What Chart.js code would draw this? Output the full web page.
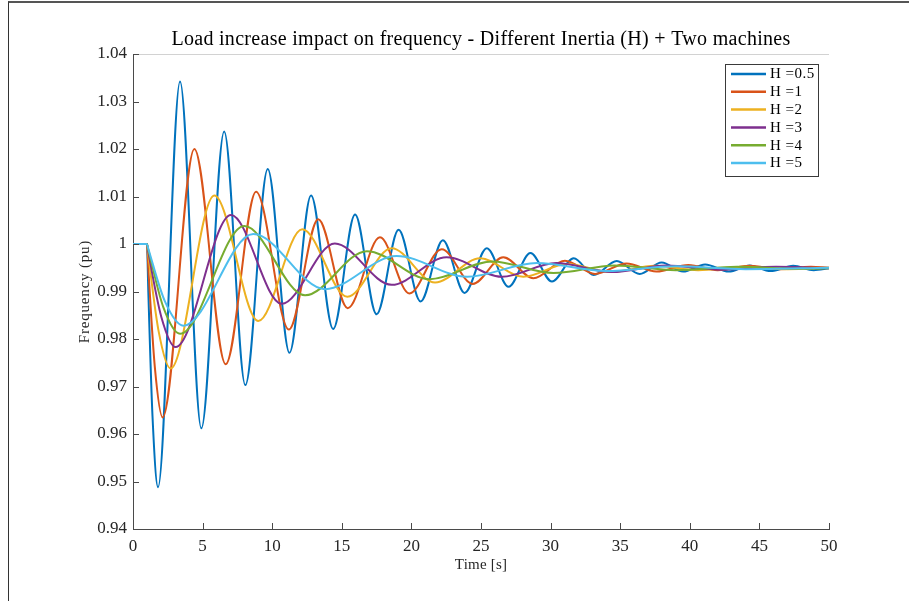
<!DOCTYPE html>
<html><head><meta charset="utf-8">
<script src="https://cdn.jsdelivr.net/npm/chart.js@4.4.0/dist/chart.umd.min.js"></script>
<style>
html,body{margin:0;padding:0;background:#fff;}
#wrap{position:relative;width:909px;height:601px;overflow:hidden;background:#fff;}
#frame{position:absolute;left:8px;top:1px;width:940px;height:640px;border-top:2px solid #555;border-left:1px solid #333;pointer-events:none;}
canvas{position:absolute;left:0;top:0;}
</style></head><body>
<div id="wrap"><canvas id="c" width="909" height="601"></canvas><div id="frame"></div></div>
<script>
// ---- data ----
const titleText = 'Load increase impact on frequency - Different Inertia (H) + Two machines';
const xTitle = 'Time [s]';
const yTitle = 'Frequency (pu)';
const legendLabels = ['H =0.5','H =1','H =2','H =3','H =4','H =5'];
const colors = ['#0072BD','#D95319','#EDB120','#7E2F8E','#77AC30','#4DBEEE'];

const xTickVals = [0,5,10,15,20,25,30,35,40,45,50];
const xTickLabels = ['0','5','10','15','20','25','30','35','40','45','50'];
const yTickVals = [0.94,0.95,0.96,0.97,0.98,0.99,1.00,1.01,1.02,1.03,1.04];
const yTickLabels = ['0.94','0.95','0.96','0.97','0.98','0.99','1','1.01','1.02','1.03','1.04'];

const tH05 = [0,1,1.1,1.40,1.80,3.38,4.91,6.55,8.07,9.68,11.24,12.79,14.38,15.95,17.5,19.08,20.66,22.26,23.82,25.42,26.98,28.55,30.1,31.66,33.1,34.75,36.4,37.98,39.52,41.1,42.8,44.3,45.8,47.43,48.9,50];
const vH05 = [1,1,0.9900,0.9638,0.9488,1.0342,0.9612,1.0237,0.9703,1.0158,0.9771,1.0102,0.9821,1.0062,0.9852,1.0030,0.9879,1.0008,0.9897,0.9991,0.9910,0.9981,0.9921,0.9970,0.9935,0.9964,0.9937,0.9961,0.9942,0.9957,0.9942,0.9955,0.9943,0.9954,0.9945,0.9949];

const tH1 = [0,1,1.1,1.565,2.13,4.41,6.66,8.84,11.2,13.31,15.42,17.74,19.85,22.18,24.4,26.6,28.76,31.03,33.2,35.45,37.6,39.9,42.0,44.3,46.5,48.7,50];
const vH1 = [1,1,0.9949,0.9742,0.9635,1.0200,0.9747,1.0110,0.9820,1.0052,0.9865,1.0014,0.9896,0.9989,0.9916,0.9972,0.9928,0.9965,0.9937,0.9959,0.9942,0.9956,0.9945,0.9954,0.9947,0.9952,0.9950];

const tH2 = [0,1,1.1,1.85,2.7,5.84,9.0,12.16,15.4,18.58,21.7,24.93,28.04,31.2,34.3,37.5,40.6,43.8,47.0,50];
const vH2 = [1,1,0.9976,0.9815,0.9738,1.0102,0.9838,1.0031,0.9889,0.9991,0.9919,0.9970,0.9931,0.9958,0.9941,0.9954,0.9945,0.9952,0.9947,0.9950];

const tH3 = [0,1,1.1,2.03,3.06,7.04,10.68,14.5,18.58,22.53,26.5,30.4,34.4,38.3,42.3,46.2,50];
const vH3 = [1,1,0.9983,0.9847,0.9783,1.0061,0.9874,1.0001,0.9914,0.9972,0.9931,0.9960,0.9941,0.9955,0.9946,0.9952,0.9949];

const tH4 = [0,1,1.1,2.19,3.38,8.0,12.36,16.8,21.3,25.8,30.2,34.6,39.0,43.4,47.8,50];
const vH4 = [1,1,0.9988,0.9866,0.9811,1.0038,0.9892,0.9985,0.9926,0.9963,0.9939,0.9955,0.9945,0.9952,0.9948,0.9949];

const tH5 = [0,1,1.1,2.31,3.62,8.64,13.8,18.94,24.0,29.0,34.0,39.0,44.0,50];
const vH5 = [1,1,0.9990,0.9878,0.9828,1.0021,0.9905,0.9975,0.9931,0.9960,0.9943,0.9953,0.9947,0.9950];

const seriesT = [tH05,tH1,tH2,tH3,tH4,tH5];
const seriesV = [vH05,vH1,vH2,vH3,vH4,vH5];

// ---- chart ----
const FONT = '"Liberation Serif", "Times New Roman", serif';
const n = seriesT.length;
const datasets = seriesT.map((ts,i)=>({
  label: legendLabels[i],
  data: ts.map((t,j)=>({x:t, y:seriesV[i][j]})),
  borderColor: colors[i],
  backgroundColor: colors[i],
  borderWidth: 2,
  pointRadius: 0,
  fill: false,
  cubicInterpolationMode: 'monotone',
  order: n - i
}));

const decor = {
  id:'decor',
  afterDraw(chart){
    const {ctx, chartArea:a, scales:{x,y}} = chart;
    ctx.save();
    // light top line
    ctx.strokeStyle='#d2d2d2'; ctx.lineWidth=1;
    ctx.beginPath(); ctx.moveTo(a.left, Math.round(a.top)+0.5); ctx.lineTo(a.right, Math.round(a.top)+0.5); ctx.stroke();
    // inward ticks
    ctx.strokeStyle='#4a4a4a'; ctx.lineWidth=1;
    ctx.beginPath();
    xTickVals.forEach(v=>{const p=Math.round(x.getPixelForValue(v))+0.5; ctx.moveTo(p,a.bottom); ctx.lineTo(p,a.bottom-6);});
    yTickVals.forEach(v=>{const p=Math.round(y.getPixelForValue(v))+0.5; ctx.moveTo(a.left,p); ctx.lineTo(a.left+6,p);});
    ctx.stroke();
    // title
    ctx.fillStyle='#000'; ctx.textAlign='center'; ctx.textBaseline='middle';
    ctx.font='20px '+FONT;
    ctx.letterSpacing='0.3px';
    ctx.fillText(titleText, (a.left+a.right)/2, 39.5);
    // axis titles
    ctx.fillStyle='#262626';
    ctx.font='15px '+FONT;
    ctx.letterSpacing='0.2px';
    ctx.fillText(xTitle, (a.left+a.right)/2, 565.5);
    ctx.letterSpacing='0.8px';
    ctx.save(); ctx.translate(85,(a.top+a.bottom)/2); ctx.rotate(-Math.PI/2); ctx.fillText(yTitle,0,0); ctx.restore();
    // legend box
    const bx=725.5, by=64.5, bw=93, bh=112;
    ctx.fillStyle='#fff'; ctx.fillRect(bx,by,bw,bh);
    ctx.strokeStyle='#3a3a3a'; ctx.lineWidth=1; ctx.strokeRect(bx,by,bw,bh);
    ctx.textAlign='left'; ctx.font='15px '+FONT; ctx.letterSpacing='0.5px';
    chart.data.datasets.forEach((ds,i)=>{
      const yy = 74 + i*17.8;
      ctx.strokeStyle=ds.borderColor; ctx.lineWidth=2.5;
      ctx.beginPath(); ctx.moveTo(731,yy); ctx.lineTo(766,yy); ctx.stroke();
      ctx.fillStyle='#000'; ctx.fillText(ds.label, 770, yy+0.5);
    });
    ctx.letterSpacing='0px';
    ctx.restore();
  }
};

new Chart(document.getElementById('c').getContext('2d'), {
  type:'line',
  data:{datasets},
  options:{
    responsive:false, animation:false, devicePixelRatio:1,
    layout:{padding:{left:0,right:80,top:54,bottom:0}},
    plugins:{legend:{display:false}, title:{display:false}, tooltip:{enabled:false}},
    scales:{
      x:{
        type:'linear', min:0, max:50,
        afterFit(s){ s.height = 72; },
        afterBuildTicks(s){ s.ticks = xTickVals.map(v=>({value:v})); },
        ticks:{callback:(v,i)=>xTickLabels[i], font:{family:FONT,size:17}, color:'#262626', padding:7, maxRotation:0, autoSkip:false},
        grid:{display:false, drawTicks:false},
        border:{display:true, color:'#4a4a4a', width:1}
      },
      y:{
        type:'linear', min:0.94, max:1.04,
        afterFit(s){ s.width = 133; },
        afterBuildTicks(s){ s.ticks = yTickVals.map(v=>({value:v})); },
        ticks:{callback:(v,i)=>yTickLabels[i], font:{family:FONT,size:17}, color:'#262626', padding:6, autoSkip:false},
        grid:{display:false, drawTicks:false},
        border:{display:true, color:'#4a4a4a', width:1}
      }
    }
  },
  plugins:[decor]
});
</script>
</body></html>
